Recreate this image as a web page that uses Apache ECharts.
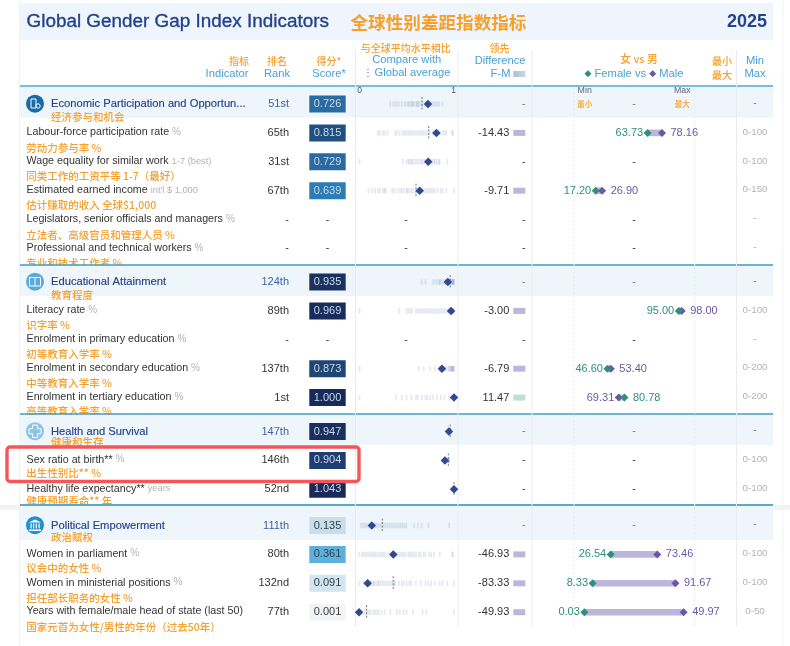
<!DOCTYPE html>
<html><head><meta charset="utf-8">
<style>html,body{margin:0;padding:0;background:#fff}#c{width:790px;height:646px}</style>
<script src="https://cdn.jsdelivr.net/npm/echarts@6/dist/echarts.min.js"></script>
</head><body><div id="c"></div>
<script>
// ---------- data ----------
const sectionSizes = [6, 5, 3, 4];
const rowNames = ["Economic Participation and Opportun...","Labour-force participation rate","Wage equality for similar work","Estimated earned income","Legislators, senior officials and managers","Professional and technical workers","Educational Attainment","Literacy rate","Enrolment in primary education","Enrolment in secondary education","Enrolment in tertiary education","Health and Survival","Sex ratio at birth**","Healthy life expectancy**","Political Empowerment","Women in parliament","Women in ministerial positions","Years with female/male head of state (last 50)"];
const rowNamesZh = ["经济参与和机会","劳动力参与率 %","同类工作的工资平等 1-7（最好）","估计赚取的收入 全球$1,000","立法者、高级官员和管理人员 %","专业和技术工作者 %","教育程度","识字率 %","初等教育入学率 %","中等教育入学率 %","高等教育入学率 %","健康和生存","出生性别比** %","健康预期寿命** 年","政治赋权","议会中的女性 %","担任部长职务的女性 %","国家元首为女性/男性的年份（过去50年）"];
const rowUnits = ["","%","1-7 (best)","int'l $ 1,000","%","%","","%","%","%","%","","%","years","","%","%",""];
const ranks = ["51st","65th","31st","67th","-","-","124th","89th","-","137th","1st","147th","146th","52nd","111th","80th","132nd","77th"];
const scores = [0.726,0.815,0.729,0.639,null,null,0.935,0.969,null,0.873,1.000,0.947,0.904,1.043,0.135,0.361,0.091,0.001];
const globalAvg = [0.663,0.734,null,0.60,null,null,0.96,null,null,null,null,0.96,0.94,1.0,0.245,null,0.36,0.08];
const differences = [null,-14.43,null,-9.71,null,null,null,-3.00,null,-6.79,11.47,null,null,null,null,-46.93,-83.33,-49.93];
const femaleValues = [null,63.73,null,17.20,null,null,null,95.00,null,46.60,80.78,null,null,null,null,26.54,8.33,0.03];
const maleValues = [null,78.16,null,26.90,null,null,null,98.00,null,53.40,69.31,null,null,null,null,73.46,91.67,49.97];
const rangeMax = [null,100,100,150,null,null,null,100,null,200,200,null,100,100,null,100,100,50];
const rangeLabels = ["-","0-100","0-100","0-150","-","-","-","0-100","-","0-200","0-200","-","0-100","0-100","-","0-100","0-100","0-50"];
const countryScores = [
 [.33,.36,.38,.4,.42,.45,.48,.5,.52,.53,.55,.56,.57,.58,.6,.61,.62,.63,.65,.67,.7,.72,.74,.76,.78,.8,.82,.84,.88],
 [.2,.22,.25,.27,.3,.38,.4,.43,.46,.48,.5,.52,.54,.56,.58,.6,.62,.64,.66,.68,.7,.72,.75,.78,.8,.82,.85,.88,.9,.92,.98,.99],
 [.005,.46,.5,.52,.53,.55,.56,.58,.6,.62,.64,.66,.67,.69,.71,.73,.75,.77,.79,.8,.82,.84,.85,.93],
 [.1,.14,.17,.2,.22,.25,.27,.28,.35,.37,.4,.43,.45,.47,.5,.51,.53,.55,.57,.6,.62,.64,.66,.68,.7,.72,.74,.76,.78,.8,.83,.86,.88,.92,1],
 [],[],
 [.66,.7,.78,.8,.82,.84,.85,.86,.88,.9,.91,.92,.94,.95,.96,.97,.98,.98,.99,.99,1,1],
 [.005,.42,.5,.52,.54,.56,.6,.62,.64,.66,.68,.7,.72,.74,.76,.78,.8,.82,.84,.86,.88,.9,.92,.94,.96,.97,.98,.99,1],
 [],
 [.005,.63,.68,.75,.8,.85,.88,.9,.92,.94,.95,.96,.97,.97,.98,.98,.99,.99,1,1],
 [.005,.39,.45,.5,.55,.6,.62,.66,.7,.72,.75,.78,.82,.86,.9,.95,1],
 [.93,.94,.95,.96,.97],
 [.9,.91,.93,.94,.945,.95],
 [.98,.99,1,1],
 [.02,.04,.06,.08,.1,.12,.14,.16,.18,.2,.22,.24,.26,.28,.3,.32,.34,.36,.38,.4,.42,.44,.46,.48,.5,.58,.62,.66,.73,.95],
 [0,.03,.05,.07,.09,.11,.13,.15,.17,.19,.21,.23,.25,.27,.3,.33,.35,.37,.39,.41,.43,.45,.47,.49,.52,.54,.56,.58,.6,.63,.65,.68,.7,.74,.76,.79,.85,.98,.99],
 [0,.05,.08,.09,.1,.12,.13,.15,.16,.18,.2,.21,.23,.25,.27,.29,.31,.33,.35,.37,.38,.42,.45,.47,.5,.53,.55,.6,.65,.7,.73,.76,.8,.85,.88,.93,1],
 [.06,.08,.1,.12,.15,.17,.19,.21,.24,.27,.33,.4,.43,.47,.5,.57,.67,.71,1]
];
// ---------- layout ----------
const LATIN = '"Liberation Sans",Arial,sans-serif', CJK = '"Noto Sans CJK SC",sans-serif';
const ORANGE = '#f5a02c', BLUE = '#4a9fd4', NAVY = '#24418c', GREEN = '#2f8f7c', PURPLE = '#6a58a6', BAR = '#bcb6de', BARG = '#b9e2d4';
const firstRowY = [104, 282, 431.5, 525.5], rowH = 28.9;
const cnOffset = [13.3,14.7,14.7,14.5,15.4,14.7, 13.3,13.7,13.9,14.3,13.3, 10.2,12.5,11.5, 12,13.7,15,15];
const rowSection = [], rowY = [];
sectionSizes.forEach((n, s) => { for (let i = 0; i < n; i++) { rowSection.push(s); rowY.push(firstRowY[s] + i * rowH); } });
const isSection = i => firstRowY.includes(rowY[i]);

const scoreStops = [[0,'#f3f4f5'],[.09,'#d2e5ef'],[.135,'#c8dfe9'],[.361,'#5cb2dc'],[.639,'#2c7cb6'],[.726,'#2a6ba2'],[.815,'#20507f'],[.9,'#1f3f72'],[.94,'#1b2f5e'],[1,'#172a5a'],[1.1,'#172a5a']];
function scoreColor(v){ for(let i=1;i<scoreStops.length;i++){ if(v<=scoreStops[i][0]){ const a=scoreStops[i-1],b=scoreStops[i]; return echarts.color.lerp((v-a[0])/(b[0]-a[0]),[a[1],b[1]]);} } return '#172a5a'; }

// ---------- graphic table text ----------
const g = [];
function txt(x,y,t,o={}){ const c=o.c||'#333'; g.push({type:'text',x,y,z:o.z||4,silent:true,style:{text:t,fill:c,stroke:o.sw?c:null,lineWidth:o.sw||0,font:`${o.w||'normal'} ${o.s||10.7}px ${o.f||LATIN}`,textAlign:o.a||'left',textVerticalAlign:'middle',rich:o.rich}}); }
function rect(x,y,w,h,c,z,r){ g.push({type:'rect',z,silent:true,shape:{x,y,width:w,height:h,r:r||0},style:{fill:c}}); }
function vline(x,y1,y2,c,dash){ g.push({type:'line',z:3,silent:true,shape:{x1:x,y1,x2:x,y2},style:{stroke:c,lineWidth:1,lineDash:dash}}); }
const zh=(x,y,t,o={})=>txt(x,y,t,{c:ORANGE,s:10,f:CJK,w:'500',...o});
// page frame
vline(19.5,0,646,'#f1f2f3'); vline(783,0,646,'#f1f2f3');
rect(0,505,790,5,'#f1f3f4',1);
// top band
rect(20,3,753,37,'#eef5fc',1);
txt(26.5,22,'Global Gender Gap Index Indicators',{s:18.9,c:NAVY,sw:.35});
zh(350.5,22,'全球性别差距指数指标',{s:17.6,w:'bold'});
txt(767,22,'2025',{s:18,c:NAVY,w:'bold',a:'right'});
// column header
const hS=11.2;
zh(249,61,'指标',{a:'right'}); txt(248.5,73.5,'Indicator',{c:BLUE,s:hS,a:'right'});
zh(277,61,'排名',{a:'center'}); txt(277,73.5,'Rank',{c:BLUE,s:hS,a:'center'});
zh(329,61,'得分*',{a:'center'}); txt(329,73.5,'Score*',{c:BLUE,s:hS,a:'center'});
zh(405.7,48,'与全球平均水平相比',{a:'center'}); txt(406.7,60,'Compare with',{c:BLUE,s:hS,a:'center'}); 
txt(374.5,73,'Global average',{c:BLUE,s:hS}); txt(368,73,'⋮',{c:'#667',s:10,a:'center'});
zh(499.5,48,'领先',{a:'center'}); txt(525.5,60.5,'Difference',{c:BLUE,s:hS,a:'right'}); txt(510.5,73.5,'F-M',{c:BLUE,s:hS,a:'right'});
g.push({type:'rect',z:4,silent:true,shape:{x:513.3,y:71,width:12,height:6},style:{fill:new echarts.graphic.LinearGradient(0,0,1,0,[{offset:0,color:BAR},{offset:1,color:BARG}])}});
zh(639,59,'女 vs 男',{a:'center',s:10.8});
txt(634,73.5,'{g|◆} Female vs {p|◆} Male',{c:BLUE,s:hS,a:'center',rich:{g:{fill:GREEN,font:`9px "DejaVu Sans"`},p:{fill:PURPLE,font:`9px "DejaVu Sans"`}}});
zh(722,61,'最小',{a:'center'}); zh(722,75,'最大',{a:'center'});
txt(755,60.5,'Min',{c:BLUE,s:hS,a:'center'}); txt(755,73.5,'Max',{c:BLUE,s:hS,a:'center'});
// axis ends
txt(359.5,91,'0',{s:8.5,c:'#555',a:'center'}); txt(453.7,91,'1',{s:8.5,c:'#555',a:'center'});
txt(584.7,91,'Min',{s:8.8,c:'#667',a:'center'}); txt(682.3,91,'Max',{s:8.8,c:'#667',a:'center'});
zh(584.7,104.5,'最小',{s:7.5,a:'center'}); zh(682.3,104.5,'最大',{s:7.5,a:'center'});
// vertical rules
[355.5,458,532,736.5].forEach(x=>vline(x,50,627,'#e8ecf0'));
[574,694.7].forEach(x=>vline(x,88,627,'#e6eaee',[2,2]));
// section bands and rules (they sit over the row sub-labels they meet)
const bandTop=[87,265.5,415,506], bandBot=[117.5,296,445,540], ruleY=[86,265,414,505], ruleC=['#4aa3d8','#3f9dc0','#3f9dc0','#5aa9c6'], ruleW=[1.5,1.5,1.5,2];
bandTop.forEach((t,i)=>{ rect(20,t,753,bandBot[i]-t,'#eef6fc',2);
 g.push({type:'line',z:2,silent:true,shape:{x1:20,y1:ruleY[i],x2:773,y2:ruleY[i]},style:{stroke:ruleC[i],lineWidth:ruleW[i]}}); });
// icons
const iconC=['#1a6aa6','#5aa9d6','#8cc4e8','#2090d0'];
firstRowY.forEach((y,i)=>{ g.push({type:'circle',z:3,silent:true,shape:{cx:35,cy:y-.3,r:9},style:{fill:iconC[i]}}); });
const W='#fff';
g.push({type:'rect',z:4,silent:true,shape:{x:31,y:99,width:5,height:9},style:{fill:'none',stroke:W,lineWidth:1}});
g.push({type:'circle',z:4,silent:true,shape:{cx:38,cy:106,r:2.2},style:{fill:'none',stroke:W,lineWidth:1}});
g.push({type:'rect',z:4,silent:true,shape:{x:29.5,y:277.5,width:11,height:8.5},style:{fill:'none',stroke:W,lineWidth:1}});
g.push({type:'line',z:4,silent:true,shape:{x1:35,y1:277.5,x2:35,y2:286},style:{stroke:W,lineWidth:1}});
g.push({type:'polygon',z:4,silent:true,shape:{points:[[32.5,425],[37.5,425],[37.5,428.7],[41,428.7],[41,433.7],[37.5,433.7],[37.5,437.5],[32.5,437.5],[32.5,433.7],[29,433.7],[29,428.7],[32.5,428.7]]},style:{fill:'none',stroke:W,lineWidth:1}});
g.push({type:'polygon',z:4,silent:true,shape:{points:[[35,519.5],[41,522.5],[29,522.5]]},style:{fill:W}});
[30.5,33,35.7,38.5].forEach(x=>rect(x,523.5,1.2,5,W,4));
rect(29,529.5,12,1.5,W,4);
// rows
rowNames.forEach((name,i)=>{
 const y=rowY[i], sec=isSection(i);
 const rich={u:{fill:'#b0b3b6',font:`${rowUnits[i].length>3?9.3:10}px ${LATIN}`}};
 if(sec){ txt(51,y,name,{s:11.2,c:NAVY,sw:.15}); zh(51,y+cnOffset[i],rowNamesZh[i],{s:10.5,z:3}); }
 else { txt(26.5,y-.7,rowUnits[i]?`${name} {u|${rowUnits[i]}}`:name,{rich}); zh(26.2,y+cnOffset[i],rowNamesZh[i],{s:10.5,z:1}); }
 if(ranks[i]==='-') txt(287,y,'-',{a:'center'}); else txt(289,y,ranks[i],{a:'right',c:sec?'#3d5fa5':'#333',s:11});
 if(scores[i]===null) { txt(327.6,y,'-',{a:'center'}); txt(406,y,'-',{a:'center'}); }
 if(differences[i]===null) txt(523.7,y,'-',{a:'center',c:sec?'#777':'#333'});
 else { txt(509.3,y,differences[i].toFixed(2),{a:'right',s:11}); rect(513.3,y-3,12,6,differences[i]<0?BAR:BARG,4); }
 if(femaleValues[i]===null) txt(634,y,'-',{a:'center',c:sec?'#777':'#333'});
 const dim=rangeLabels[i]==='-';
 txt(755,y-1,rangeLabels[i],{a:'center',s:dim?10:9.8,c:dim&&sec?'#777':'#b0b3b6'});
});
// red highlight
g.push({type:'rect',z:100,silent:true,shape:{x:7,y:447,width:352,height:34.5,r:3},style:{fill:'none',stroke:'#f4565a',lineWidth:3.4}});

// ---------- grids / axes / series ----------
const grids=[],xAxes=[],yAxes=[],series=[];
const cmpLeft=359,cmpW=95,fmLeft=584.3,fmW=99.4,scoreLeft=309.3,scoreW=36.4;
const hidden={show:false};
sectionSizes.forEach((n,s)=>{
 const rows=rowY.map((_,i)=>i).filter(i=>rowSection[i]===s);
 const top=firstRowY[s]-rowH/2, h=n*rowH;
 const base=grids.length;
 [[cmpLeft,cmpW],[fmLeft,fmW],[scoreLeft,scoreW]].forEach(([left,width],k)=>{
  grids.push({left,width,top,height:h,show:false});
  xAxes.push({type:'value',gridIndex:base+k,min:0,max:1,...hidden});
  yAxes.push({type:'category',gridIndex:base+k,inverse:true,data:rows.map(i=>rowNames[i]),...hidden});
 });
 const ax=k=>({xAxisIndex:base+k,yAxisIndex:base+k});
 const pts=[]; rows.forEach(i=>countryScores[i].forEach(v=>pts.push([v,rowNames[i]])));
 series.push({type:'scatter',...ax(0),z:5,silent:true,clip:false,symbol:'rect',symbolSize:[1.7,5.5],itemStyle:{color:'#5f6f9f',opacity:.16},data:pts});
 series.push({type:'custom',...ax(0),z:6,silent:true,clip:false,
  data:rows.filter(i=>globalAvg[i]!==null).map(i=>[globalAvg[i],rowNames[i]]),
  renderItem:(p,api)=>{const c=api.coord([api.value(0),api.value(1)]);return {type:'line',shape:{x1:c[0],y1:c[1]-7,x2:c[0],y2:c[1]+7},style:{stroke:'#6d7686',lineWidth:1,lineDash:[2,1.5]}};},
  encode:{x:0,y:1}});
 series.push({type:'scatter',...ax(0),z:7,silent:true,clip:false,symbol:'diamond',symbolSize:8.5,itemStyle:{color:'#30498f',opacity:1},
  data:rows.filter(i=>scores[i]!==null).map(i=>[Math.min(scores[i],1),rowNames[i]])});
 // score cells
 series.push({type:'scatter',...ax(2),z:7,silent:true,clip:false,symbol:'rect',symbolSize:[scoreW,17],
  data:rows.filter(i=>scores[i]!==null).map(i=>({value:[.5,rowNames[i]],itemStyle:{color:scoreColor(scores[i]),opacity:1},
   label:{show:true,position:'inside',formatter:scores[i].toFixed(3),fontFamily:LATIN,fontSize:11,color:scores[i]>.5?'#c9d9ea':'#33404d'}}))});
 // female vs male
 const gap=rows.filter(i=>femaleValues[i]!==null);
 if(gap.length){
  const norm=(i,v)=>v/rangeMax[i];
  series.push({type:'custom',...ax(1),z:6,silent:true,clip:false,encode:{x:[0,1],y:2},
   data:gap.map(i=>[norm(i,Math.min(femaleValues[i],maleValues[i])),norm(i,Math.max(femaleValues[i],maleValues[i])),rowNames[i],differences[i]<0?0:1]),
   renderItem:(p,api)=>{const a=api.coord([api.value(0),api.value(2)]),b=api.coord([api.value(1),api.value(2)]);
    return {type:'rect',shape:{x:a[0],y:a[1]-3.3,width:b[0]-a[0],height:6.6},style:{fill:api.value(3)?BARG:BAR}};}});
  const mark=(vals,color,z)=>({type:'scatter',...ax(1),z,silent:true,clip:false,symbol:'diamond',symbolSize:8,itemStyle:{color,opacity:1},
   data:gap.map(i=>{const other=vals===femaleValues?maleValues[i]:femaleValues[i];
    return {value:[norm(i,vals[i]),rowNames[i]],label:{show:true,position:vals[i]<other?'left':'right',distance:vals[i]<other?0.5:4.5,formatter:vals[i].toFixed(2),fontFamily:LATIN,fontSize:11,color}};})});
  series.push(mark(maleValues,PURPLE,7));
  series.push(mark(femaleValues,GREEN,8));
 }
});
const chart=echarts.init(document.getElementById('c'),null,{renderer:'canvas'});
chart.setOption({animation:false,backgroundColor:'#fff',grid:grids,xAxis:xAxes,yAxis:yAxes,series,graphic:{elements:g}});
</script></body></html>
